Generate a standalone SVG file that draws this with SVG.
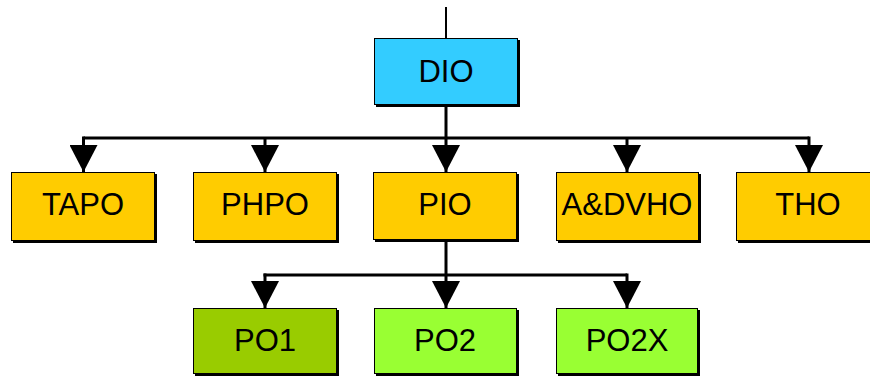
<svg xmlns="http://www.w3.org/2000/svg" width="870" height="377" viewBox="0 0 870 377">
  <style>
    .shadow { fill: #000; }
    .box { stroke: #000; stroke-width: 1; }
    .dio { fill: #33CCFF; }
    .dept { fill: #FFCC00; }
    .po1 { fill: #99CC00; }
    .po2 { fill: #99FF33; }
    .label { font-family: "Liberation Sans", Arial, sans-serif; font-size: 31px; fill: #000; text-anchor: middle; dominant-baseline: central; }
    .wire { fill: none; stroke: #000; stroke-width: 3; }
    .feed { fill: none; stroke: #000; stroke-width: 2; }
  </style>
  <defs>
    <marker id="arrow" markerUnits="userSpaceOnUse" markerWidth="28" markerHeight="27" viewBox="0 0 28 27" refX="14" refY="27" orient="0">
      <path d="M0,0 H28 L14,27 Z" fill="#000"/>
    </marker>
  </defs>

  <g id="connectors">
    <path class="feed" d="M446,7 V38"/>
    <path class="wire" d="M446,105 V138"/>
    <path class="wire" d="M83.5,138 H809"/>
    <path class="wire" d="M83.5,136.5 V172" marker-end="url(#arrow)"/>
    <path class="wire" d="M265,138 V172" marker-end="url(#arrow)"/>
    <path class="wire" d="M446,138 V172" marker-end="url(#arrow)"/>
    <path class="wire" d="M627,138 V172" marker-end="url(#arrow)"/>
    <path class="wire" d="M809,136.5 V172" marker-end="url(#arrow)"/>
    <path class="wire" d="M446,241 V275"/>
    <path class="wire" d="M263.5,275 H627"/>
    <path class="wire" d="M265,273.5 V308" marker-end="url(#arrow)"/>
    <path class="wire" d="M446,275 V308" marker-end="url(#arrow)"/>
    <path class="wire" d="M627,273.5 V308" marker-end="url(#arrow)"/>
  </g>

  <g id="node-dio">
    <rect class="shadow" x="376" y="40" width="144" height="67"/>
    <rect class="box dio" x="374.5" y="38.5" width="143" height="66"/>
    <text class="label" x="446" y="71.5">DIO</text>
  </g>

  <g id="node-tapo">
    <rect class="shadow" x="13" y="174" width="144" height="69"/>
    <rect class="box dept" x="11.5" y="172.5" width="143" height="68"/>
    <text class="label" x="83" y="204.5">TAPO</text>
  </g>
  <g id="node-phpo">
    <rect class="shadow" x="195" y="174" width="144" height="69"/>
    <rect class="box dept" x="193.5" y="172.5" width="143" height="68"/>
    <text class="label" x="265" y="204.5">PHPO</text>
  </g>
  <g id="node-pio">
    <rect class="shadow" x="375" y="174" width="144" height="68"/>
    <rect class="box dept" x="373.5" y="172.5" width="143" height="67"/>
    <text class="label" x="445" y="204.5">PIO</text>
  </g>
  <g id="node-advho">
    <rect class="shadow" x="558" y="174" width="143" height="69"/>
    <rect class="box dept" x="556.5" y="172.5" width="142" height="68"/>
    <text class="label" x="627" y="204.5">A&amp;DVHO</text>
  </g>
  <g id="node-tho">
    <rect class="shadow" x="738" y="174" width="144" height="69"/>
    <rect class="box dept" x="736.5" y="172.5" width="143" height="68"/>
    <text class="label" x="808" y="204.5">THO</text>
  </g>

  <g id="node-po1">
    <rect class="shadow" x="195" y="310" width="144" height="66"/>
    <rect class="box po1" x="193.5" y="308.5" width="143" height="65"/>
    <text class="label" x="265" y="340.5">PO1</text>
  </g>
  <g id="node-po2">
    <rect class="shadow" x="376" y="310" width="143" height="66"/>
    <rect class="box po2" x="374.5" y="308.5" width="142" height="65"/>
    <text class="label" x="445" y="340.5">PO2</text>
  </g>
  <g id="node-po2x">
    <rect class="shadow" x="558" y="310" width="142" height="66"/>
    <rect class="box po2" x="556.5" y="308.5" width="141" height="65"/>
    <text class="label" x="627" y="340.5">PO2X</text>
  </g>
</svg>
